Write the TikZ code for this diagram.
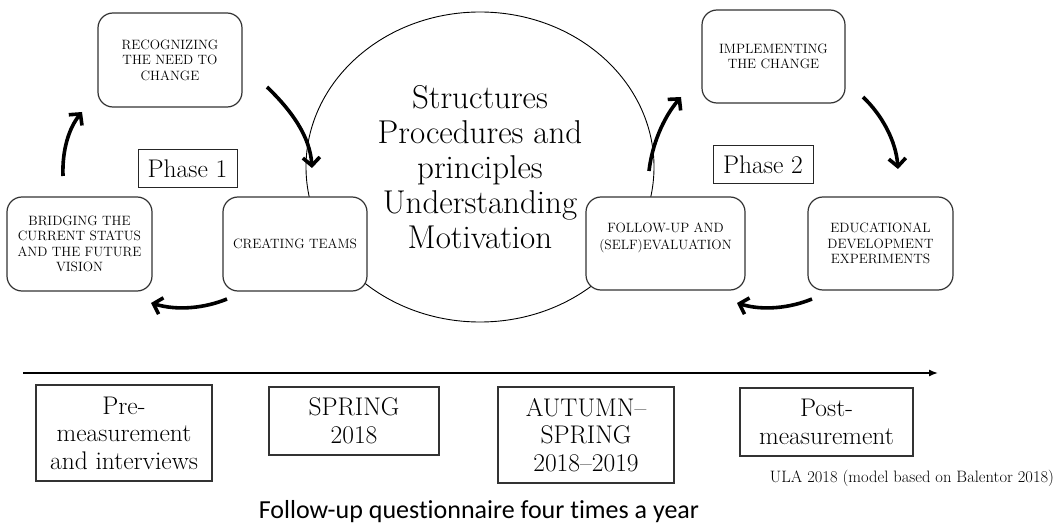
\documentclass[tikz,border=0pt]{standalone}
\usepackage{fontspec}
\newfontfamily\calib[Ligatures={NoCommon}]{Carlito}
\usetikzlibrary{arrows.meta,shapes.geometric}
\tikzset{
  rbox/.style={draw=black!80, line width=1.2pt, rounded corners=15pt, fill=white,
    align=center, inner sep=0pt, font=\fontsize{13.5}{15.5}\selectfont},
  phasebox/.style={draw=black!85, line width=1pt, inner sep=0pt, minimum height=38pt,
    minimum width=99pt, font=\fontsize{25.5}{28}\selectfont},
  tbox/.style={draw=black!80, line width=1.1pt, align=center, inner sep=0pt,
    font=\fontsize{25.5}{27.5}\selectfont},
  cyc/.style={line width=3.6pt, -{Straight Barb[length=8pt,width=17pt]}},
}
\begin{document}
\begin{tikzpicture}[x=1pt,y=-1pt]
\useasboundingbox[fill=white] (0,0) rectangle (1061,524);

% central ellipse
\node[ellipse, draw=black, line width=0.9pt, minimum width=348pt, minimum height=310pt,
  inner sep=0pt, align=center, font=\fontsize{33}{35}\selectfont] (core) at (480,167)
  {Structures\\Procedures and\\principles\\Understanding\\Motivation};

% phase 1 boxes
\node[rbox, minimum width=144pt, minimum height=94pt] (rec) at (170,60)
  {RECOGNIZING\\THE NEED TO\\CHANGE};
\node[rbox, minimum width=145pt, minimum height=94pt] (bri) at (79.5,244)
  {BRIDGING THE\\CURRENT STATUS\\AND THE FUTURE\\VISION};
\node[rbox, minimum width=144pt, minimum height=94pt] (cre) at (295,244)
  {CREATING TEAMS};
\node[phasebox] (ph1) at (187.5,169) {Phase 1};

% phase 2 boxes
\node[rbox, minimum width=143pt, minimum height=93pt] (imp) at (773.5,56.5)
  {IMPLEMENTING\\THE CHANGE};
\node[rbox, minimum width=159pt, minimum height=93pt] (fol) at (665.5,243.5) {};
\node[align=center, inner sep=0pt, font=\fontsize{13.5}{17}\selectfont] (folt) at (665.5,237.5)
  {FOLLOW-UP AND\\(SELF)EVALUATION};
\node[rbox, minimum width=145pt, minimum height=93pt] (edu) at (880.5,243.5)
  {EDUCATIONAL\\DEVELOPMENT\\EXPERIMENTS};
\node[phasebox, minimum width=100pt] (ph2) at (763,165) {Phase 2};

% cycle arrows, phase 1
\coordinate (a1s) at (63,176);  \coordinate (a1e) at (82,112);
\coordinate (a2s) at (267,87);  \coordinate (a2e) at (312,168);
\coordinate (a3s) at (227,299); \coordinate (a3e) at (151,303);
\draw[cyc] (a1s) .. controls (62,150) and (69,128) .. (a1e);
\draw[cyc] (a2s) .. controls (291,110) and (310,136) .. (a2e);
\draw[cyc] (a3s) .. controls (205,308) and (178,311) .. (a3e);

% cycle arrows, phase 2
\coordinate (a4s) at (649,171); \coordinate (a4e) at (681,97);
\coordinate (a5s) at (863,97);  \coordinate (a5e) at (898,169);
\coordinate (a6s) at (812,299); \coordinate (a6e) at (737,303);
\draw[cyc] (a4s) .. controls (652,145) and (663,118) .. (a4e);
\draw[cyc] (a5s) .. controls (882,115) and (896,141) .. (a5e);
\draw[cyc] (a6s) .. controls (790,308) and (763,311) .. (a6e);

% timeline
\coordinate (tl0) at (23,373);
\coordinate (tl1) at (938,373);
\draw[line width=1.4pt, -{Latex[length=9pt,width=7pt]}] (tl0) -- (tl1);

\node[tbox, minimum width=176pt, minimum height=96pt] (pre) at (124,433)
  {Pre-\\measurement\\and interviews};
\node[tbox, minimum width=170pt, minimum height=68pt] (spr) at (354,421)
  {SPRING\\2018};
\node[tbox, minimum width=176pt, minimum height=96pt] (aut) at (586,435)
  {AUTUMN--\\SPRING\\2018--2019};
\node[tbox, minimum width=173pt, minimum height=68pt] (post) at (826.5,422)
  {Post-\\measurement};

\node[anchor=base, inner sep=0pt, font=\calib\fontsize{26}{30}\selectfont] (fu) at (479,518)
  {Follow-up questionnaire four times a year};
\node[anchor=base, inner sep=0pt, font=\fontsize{16.5}{18}\selectfont] (ula) at (912,482)
  {ULA 2018 (model based on Balentor 2018)};
\end{tikzpicture}
\end{document}
